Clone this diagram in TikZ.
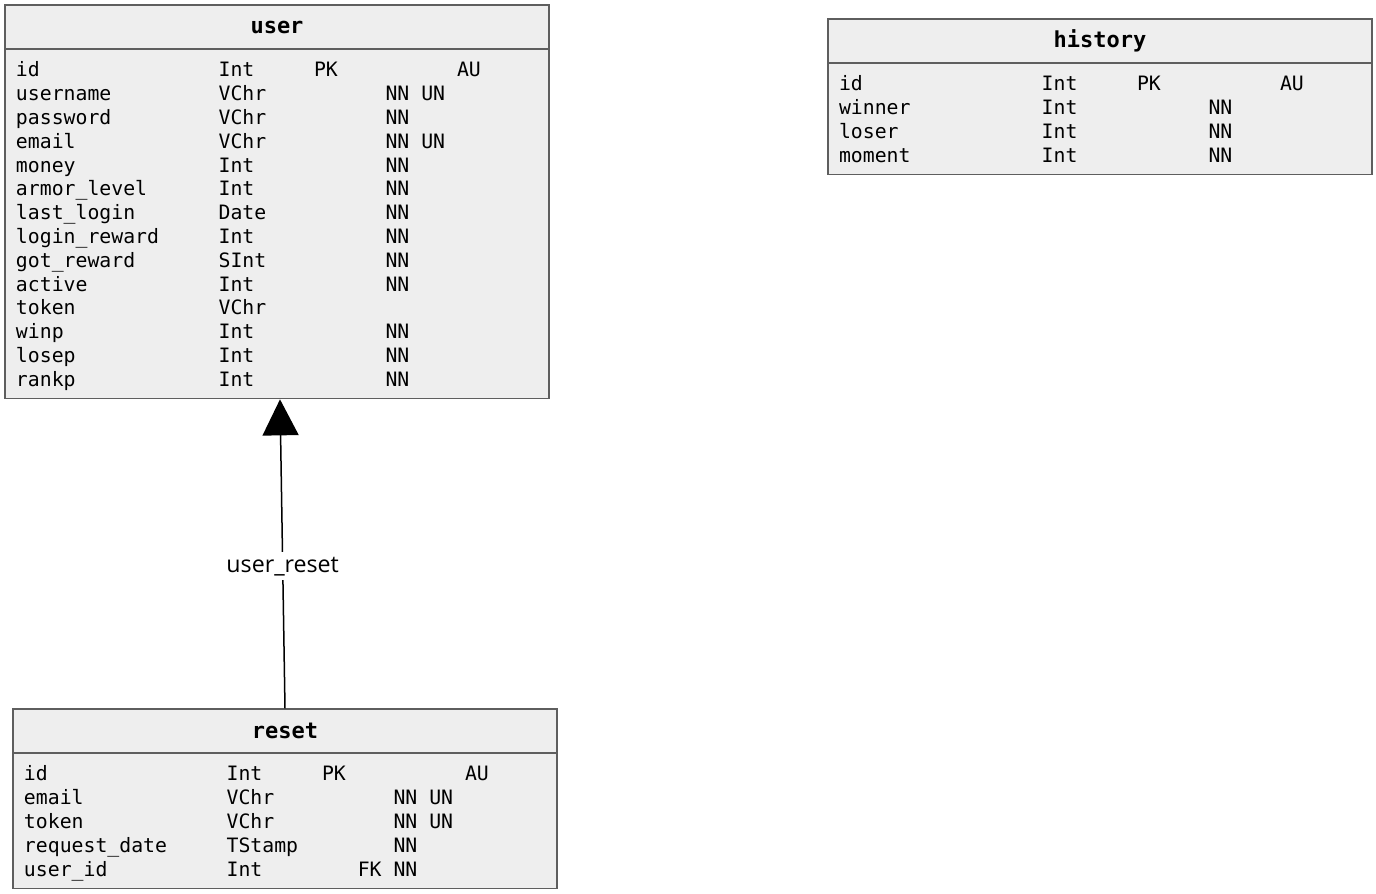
\documentclass[tikz,border=0pt]{standalone}
\usepackage{fontspec}
\setmonofont{DejaVu Sans Mono}
\setsansfont{Open Sans}
\usepackage{array}
\usepackage{xcolor}
\usetikzlibrary{arrows.meta, positioning}

\definecolor{tabfill}{HTML}{EEEEEE}
\definecolor{tabline}{HTML}{5E5E5E}

% one column per field part: name, type, PK, FK, NN, UN, AU
\newlength{\colw}
\newsavebox{\fieldbox}
\newcommand{\fields}[1]{\settowidth{\colw}{0}%
  \sbox{\fieldbox}{\begin{tabular}{@{}w{l}{17\colw}@{}w{l}{8\colw}@{}w{l}{3\colw}@{}w{l}{3\colw}@{}w{l}{3\colw}@{}w{l}{3\colw}@{}l@{}}#1\end{tabular}}%
  \raisebox{-1.5pt}[\ht\fieldbox][\dp\fieldbox]{\usebox{\fieldbox}}}

\begin{document}
\begin{tikzpicture}[
  x=0.5pt, y=-0.5pt,
  tabhead/.style={draw=tabline, fill=tabfill, line width=0.75pt, minimum width=272pt, minimum height=22pt,
    inner sep=0pt, font=\ttfamily\bfseries\fontsize{11}{13}\selectfont},
  tabbody/.style={draw=tabline, fill=tabfill, line width=0.75pt, text width=261pt, align=left,
    inner xsep=5.5pt, inner ysep=4.1pt, font=\ttfamily\fontsize{9.9}{11.9}\selectfont},
  rel/.style={draw=black, line width=0.75pt, -{Triangle[length=18pt, width=18pt]}},
  rellabel/.style={fill=white, inner sep=2.2pt, font=\sffamily\fontsize{11.6}{13}\selectfont},
]
  \useasboundingbox (0,0) rectangle (1376,894);

  % user
  \node[tabhead] (user) at (277,27) {user};
  \node[tabbody, below=-0.75pt of user] (userfields) {\fields{
    id & Int & PK & & & & AU \\
    username & VChr & & & NN & UN & \\
    password & VChr & & & NN & & \\
    email & VChr & & & NN & UN & \\
    money & Int & & & NN & & \\
    armor\_level & Int & & & NN & & \\
    last\_login & Date & & & NN & & \\
    login\_reward & Int & & & NN & & \\
    got\_reward & SInt & & & NN & & \\
    active & Int & & & NN & & \\
    token & VChr & & & & & \\
    winp & Int & & & NN & & \\
    losep & Int & & & NN & & \\
    rankp & Int & & & NN & &
  }};

  % history
  \node[tabhead] (history) at (1100,41) {history};
  \node[tabbody, below=-0.75pt of history] (historyfields) {\fields{
    id & Int & PK & & & & AU \\
    winner & Int & & & NN & & \\
    loser & Int & & & NN & & \\
    moment & Int & & & NN & &
  }};

  % reset
  \node[tabhead] (reset) at (285,731) {reset};
  \node[tabbody, below=-0.75pt of reset] (resetfields) {\fields{
    id & Int & PK & & & & AU \\
    email & VChr & & & NN & UN & \\
    token & VChr & & & NN & UN & \\
    request\_date & TStamp & & & NN & & \\
    user\_id & Int & & FK & NN & &
  }};

  \draw[rel] (reset.north) -- node[rellabel, pos=0.46] (userreset) {user\_reset} ([xshift=1.5pt]userfields.south);
\end{tikzpicture}
\end{document}
